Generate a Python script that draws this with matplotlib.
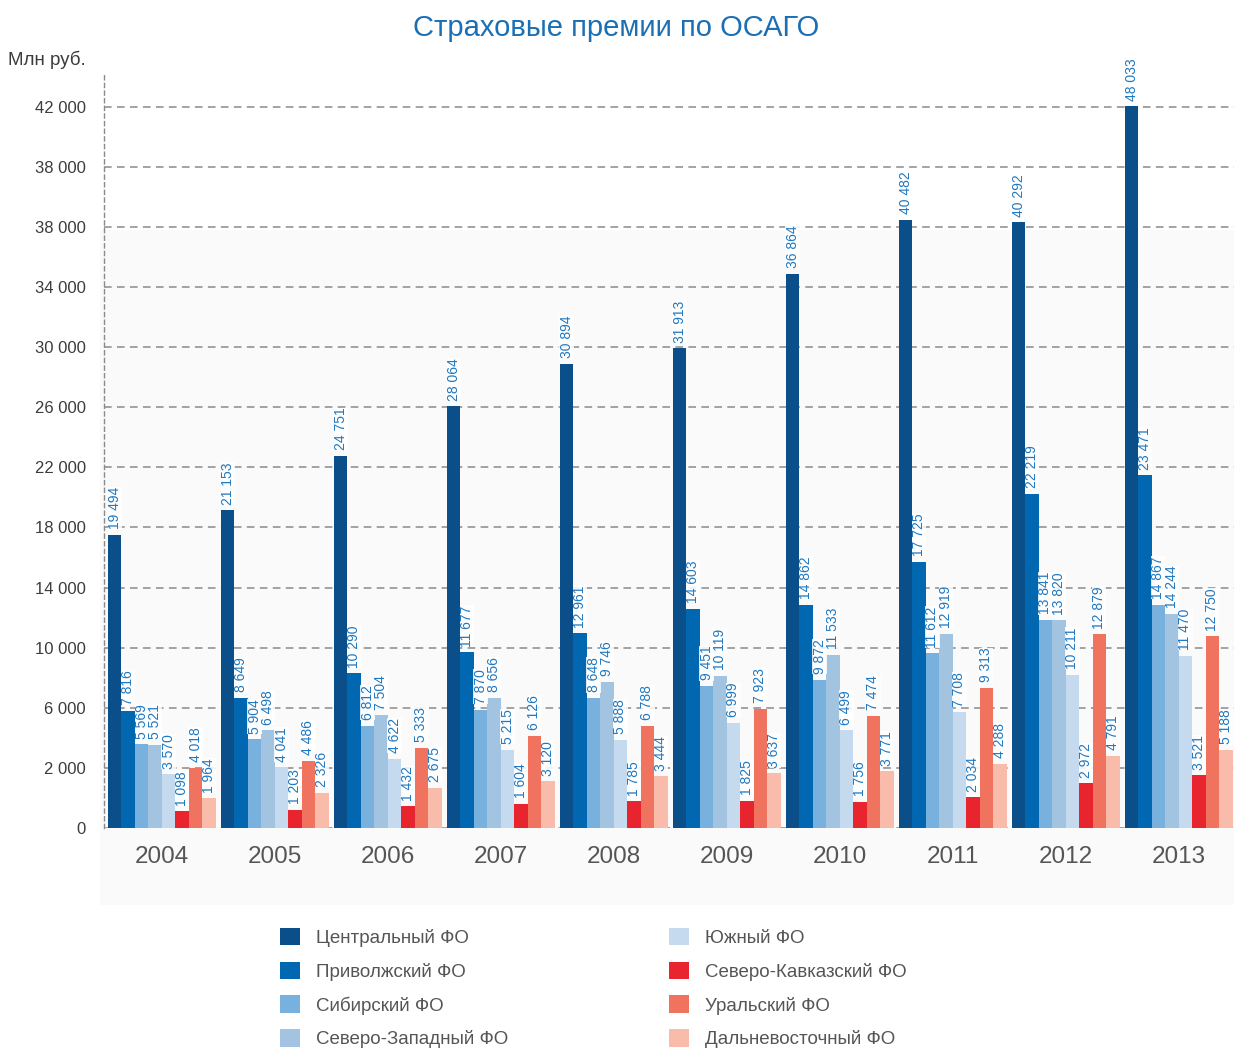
import matplotlib
matplotlib.use("Agg")
import matplotlib.pyplot as plt
import numpy as np
from matplotlib.patches import Rectangle

# Данные (млн руб.)
years = ["2004", "2005", "2006", "2007", "2008", "2009", "2010", "2011", "2012", "2013"]
regions = ["Центральный ФО", "Приволжский ФО", "Сибирский ФО", "Северо-Западный ФО",
           "Южный ФО", "Северо-Кавказский ФО", "Уральский ФО", "Дальневосточный ФО"]
central  = [19494, 21153, 24751, 28064, 30894, 31913, 36864, 40482, 40292, 48033]
privolzh = [7816, 8649, 10290, 11677, 12961, 14603, 14862, 17725, 22219, 23471]
sibir    = [5569, 5904, 6812, 7870, 8648, 9451, 9872, 11612, 13841, 14867]
sevzap   = [5521, 6498, 7504, 8656, 9746, 10119, 11533, 12919, 13820, 14244]
yug      = [3570, 4041, 4622, 5215, 5888, 6999, 6499, 7708, 10211, 11470]
skavkaz  = [1098, 1203, 1432, 1604, 1785, 1825, 1756, 2034, 2972, 3521]
ural     = [4018, 4486, 5333, 6126, 6788, 7923, 7474, 9313, 12879, 12750]
dalvost  = [1964, 2326, 2675, 3120, 3444, 3637, 3771, 4288, 4791, 5188]
series = [central, privolzh, sibir, sevzap, yug, skavkaz, ural, dalvost]

# подписи оси как в оригинале
ytick_vals = list(range(0, 48001, 4000))
ytick_labels = ["0", "2 000", "6 000", "10 000", "14 000", "18 000", "22 000",
                "26 000", "30 000", "34 000", "38 000", "38 000", "42 000"]

colors = ["#0b4f8a", "#0067b0", "#78b1de", "#a3c4e0",
          "#c5d9ef", "#e8242f", "#f07360", "#f9bcaa"]

plt.rcParams["font.family"] = ["Liberation Sans", "DejaVu Sans"]

fig = plt.figure(figsize=(12.34, 10.5), dpi=100)
# светло-серая подложка
fig.add_artist(Rectangle((100 / 1234, 1 - 905 / 1050), 1 - 100 / 1234, (905 - 230) / 1050,
                         transform=fig.transFigure, facecolor="#fafafa",
                         edgecolor="none", zorder=0))
ax = fig.add_axes([104 / 1234, 1 - 828 / 1050, 1 - 104 / 1234, (828 - 72) / 1050])
ax.set_facecolor("none")

x = np.arange(len(years))
w = 0.1192
for k, (vals, col, name) in enumerate(zip(series, colors, regions)):
    pos = x - 4 * w + (k + 0.5) * w
    ax.bar(pos, vals, width=w, color=col, label=name, zorder=3, linewidth=0)
    for px, v in zip(pos, vals):
        ax.annotate(f"{v:,}".replace(",", " "), (px, v), xytext=(0, 4),
                    textcoords="offset points", rotation=90, ha="center", va="bottom",
                    fontsize=10, color="#1f78c1", zorder=4,
                    bbox=dict(facecolor="white", edgecolor="none", pad=0.1, alpha=0.85))

ax.set_xlim(-0.512, 9.49)
ax.set_ylim(0, 50300)
ax.set_yticks(ytick_vals)
ax.set_yticklabels(ytick_labels)
ax.set_xticks(x)
ax.set_xticklabels(years)
ax.tick_params(axis="y", length=0, pad=13, labelsize=12, labelcolor="#3c3c3c")
ax.tick_params(axis="x", length=0, pad=13, labelsize=17.5, labelcolor="#555555")

for yv in ytick_vals:
    ax.axhline(yv, color="#8a8a8a", lw=1.1, ls=(0, (5, 3.5)), zorder=1)
for s in ["top", "right", "bottom"]:
    ax.spines[s].set_visible(False)
ax.spines["left"].set_color("#8a8a8a")
ax.spines["left"].set_linestyle((0, (3, 2.5)))
ax.spines["left"].set_linewidth(1.0)

fig.text(8 / 1234, 1 - 60 / 1050, "Млн руб.", fontsize=13.5, color="#3c3c3c",
         ha="left", va="center")
fig.text(616 / 1234, 1 - 28 / 1050, "Страховые премии по ОСАГО", fontsize=21,
         color="#1a6fb5", ha="center", va="center",
         family=["Liberation Sans Narrow", "Liberation Sans", "DejaVu Sans"])

leg = fig.legend(loc="upper left", bbox_to_anchor=(280 / 1234, 1 - 928 / 1050), ncol=2,
                 frameon=False, fontsize=13.5, handlelength=1.05, handleheight=1.05,
                 handletextpad=0.85, labelspacing=0.78, columnspacing=8.6,
                 borderaxespad=0, borderpad=0)
for t in leg.get_texts():
    t.set_color("#555555")

fig.savefig("out.png", dpi=100)
